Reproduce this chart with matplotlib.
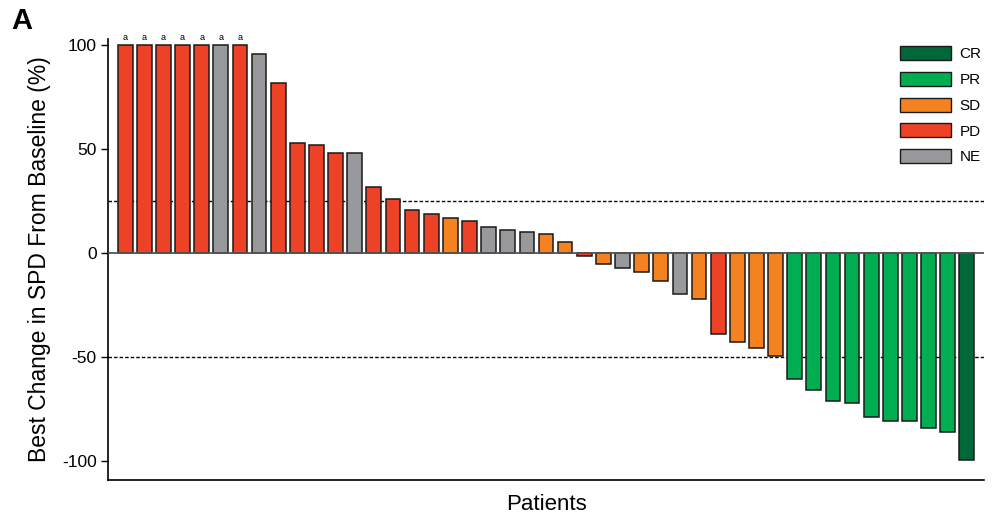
import matplotlib.pyplot as plt
from matplotlib.patches import Patch

plt.rcParams['font.family'] = ['Liberation Sans', 'DejaVu Sans']

# best change in SPD from baseline (%) per patient, sorted
changes = [100, 100, 100, 100, 100, 100, 100, 96, 82, 53, 52, 48, 48, 32, 26,
           21, 19, 17, 15.5, 12.6, 11.3, 10.2, 9.2, 5.5, -1.4, -5, -7, -9.2, -13.4,
           -19.6, -22, -38.6, -42.8, -45.4, -49.4, -60.4, -65.8, -71.1, -72.1,
           -78.5, -80.6, -80.6, -84.1, -85.7, -99.5]
responses = ['PD', 'PD', 'PD', 'PD', 'PD', 'NE', 'PD', 'NE', 'PD', 'PD', 'PD', 'PD', 'NE', 'PD', 'PD',
             'PD', 'PD', 'SD', 'PD', 'NE', 'NE', 'NE', 'SD', 'SD', 'PD', 'SD', 'NE', 'SD', 'SD',
             'NE', 'SD', 'PD', 'SD', 'SD', 'SD', 'PR', 'PR', 'PR', 'PR',
             'PR', 'PR', 'PR', 'PR', 'PR', 'CR']
capped = [True] * 7 + [False] * 38  # bars marked "a"

colors = {'CR': '#006838', 'PR': '#00AD50', 'SD': '#F58220', 'PD': '#EE4227', 'NE': '#98999D'}
legend_order = ['CR', 'PR', 'SD', 'PD', 'NE']

fig = plt.figure(figsize=(9.97, 5.3), dpi=100)
ax = fig.add_axes([0.1083, 0.0943, 0.8787, 0.832])

x = list(range(len(changes)))
ax.bar(x, changes, width=0.77, color=[colors[r] for r in responses],
       edgecolor='#1a1a1a', linewidth=1.1, zorder=3)

for i, c in enumerate(capped):
    if c:
        ax.text(i, changes[i] + 1.5, 'a', ha='center', va='bottom', fontsize=6.5, clip_on=False)

ax.axhline(0, color='#555555', lw=1.3, zorder=4)
ax.axhline(25, color='black', lw=1, ls=(0, (2.5, 1.5)), zorder=2)
ax.axhline(-50, color='black', lw=1, ls=(0, (2.5, 1.5)), zorder=2)

ax.set_xlim(-0.9, len(changes) - 0.1)
ax.set_ylim(-109, 103)
ax.set_yticks([100, 50, 0, -50, -100])
ax.set_yticklabels(['100', '50', '0', '-50', '-100'])
ax.set_xticks([])
ax.tick_params(axis='y', direction='out', length=5, width=1, labelsize=12.5, pad=3)
ax.spines['top'].set_visible(False)
ax.spines['right'].set_visible(False)
ax.spines['left'].set_linewidth(1.2)
ax.spines['bottom'].set_linewidth(1.2)

ax.set_ylabel('Best Change in SPD From Baseline (%)', fontsize=16.5, labelpad=8)
ax.set_xlabel('Patients', fontsize=16, labelpad=10)

handles = [Patch(facecolor=colors[k], edgecolor='#1a1a1a', linewidth=1, label=k) for k in legend_order]
ax.legend(handles=handles, loc='upper right', bbox_to_anchor=(1.013, 1.015), frameon=False,
          handlelength=3.3, handleheight=1.05, labelspacing=0.68, handletextpad=0.6, fontsize=11)

fig.text(0.011, 0.96, 'A', fontsize=21, fontweight='bold', ha='left', va='center')

fig.savefig('out.png', dpi=100)
